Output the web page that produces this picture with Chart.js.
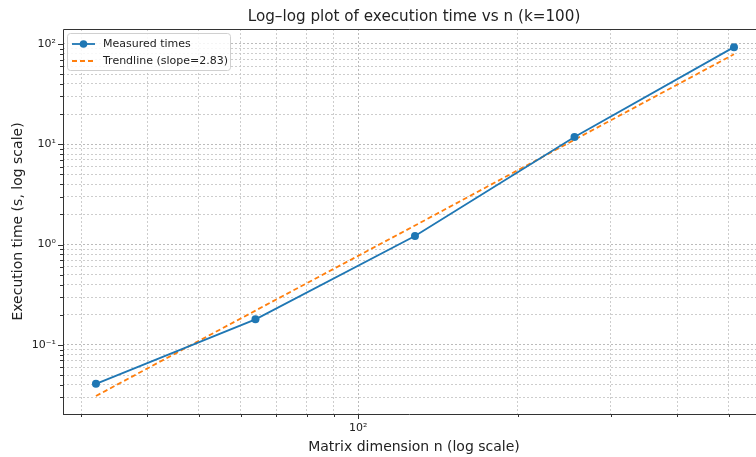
<!DOCTYPE html>
<html lang="en">
<head>
    <meta charset="UTF-8">
    <title>Log-log plot of execution time vs n</title>
    <script src="https://cdn.jsdelivr.net/npm/chart.js"></script>
    <style>
        body { margin: 0; background: #fff; }
        #wrap { width: 756px; height: 457px; }
    </style>
</head>
<body>
    <div id="wrap"><canvas id="grafico" width="756" height="457"></canvas></div>

    <script>
        // matrix sizes and measured times
        const nValues = [32, 64, 128, 256, 512];
        const measuredTimes = [0.041, 0.18, 1.22, 11.8, 93];
        const trendTimes = [0.031, 0.22, 1.55, 11.1, 79];

        // tick positions (log grid) - only powers of ten get a label
        const xTicks = [30, 40, 50, 60, 70, 80, 90, 100, 200, 300, 400, 500];
        const yTicks = [0.03, 0.04, 0.05, 0.06, 0.07, 0.08, 0.09,
                        0.1, 0.2, 0.3, 0.4, 0.5, 0.6, 0.7, 0.8, 0.9,
                        1, 2, 3, 4, 5, 6, 7, 8, 9,
                        10, 20, 30, 40, 50, 60, 70, 80, 90, 100];
        const powLabels = { '0.1': '10⁻¹', '1': '10⁰', '10': '10¹', '100': '10²' };

        const titleText = 'Log–log plot of execution time vs n (k=100)';
        const xTitleText = 'Matrix dimension n (log scale)';

        const FONT = "'DejaVu Sans', sans-serif";
        const BLUE = '#1f77b4';
        const ORANGE = '#ff7f0e';

        function isPow10(v) {
            const l = Math.log10(v);
            return Math.abs(l - Math.round(l)) < 1e-9;
        }

        // frame, tick marks, titles and the legend box inside the axes
        const extras = {
            id: 'extras',
            afterDraw(chart) {
                const ctx = chart.ctx;
                const a = chart.chartArea;
                const xs = chart.scales.x, ys = chart.scales.y;
                ctx.save();
                ctx.strokeStyle = '#333';
                ctx.lineWidth = 1;
                ctx.beginPath();
                ctx.moveTo(a.left + 0.5, a.bottom + 0.5);
                ctx.lineTo(a.left + 0.5, a.top + 0.5);
                ctx.lineTo(a.right, a.top + 0.5);
                ctx.moveTo(a.left, a.bottom + 0.5);
                ctx.lineTo(a.right, a.bottom + 0.5);
                // tick marks
                xs.ticks.forEach(t => {
                    const px = Math.round(xs.getPixelForValue(t.value)) + 0.5;
                    const len = isPow10(t.value) ? 5 : 3;
                    ctx.moveTo(px, a.bottom);
                    ctx.lineTo(px, a.bottom + len);
                });
                ys.ticks.forEach(t => {
                    const py = Math.round(ys.getPixelForValue(t.value)) + 0.5;
                    const len = isPow10(t.value) ? 5 : 3;
                    ctx.moveTo(a.left, py);
                    ctx.lineTo(a.left - len, py);
                });
                ctx.stroke();

                // titles, centred on the full axes (which run past the right edge)
                const cx = 414;
                ctx.fillStyle = '#222';
                ctx.textAlign = 'center';
                ctx.textBaseline = 'middle';
                ctx.font = '15.2px ' + FONT;
                ctx.fillText(titleText, cx, 17);
                ctx.font = '14px ' + FONT;
                ctx.fillText(xTitleText, cx, 447);

                // legend
                const bx = 67, by = 33, bw = 163, bh = 37;
                ctx.fillStyle = 'rgba(255,255,255,0.85)';
                ctx.strokeStyle = '#d0d0d0';
                ctx.beginPath();
                ctx.roundRect(bx + 0.5, by + 0.5, bw, bh, 3);
                ctx.fill();
                ctx.stroke();

                const rows = [
                    { label: chart.data.datasets[0].label, color: BLUE, dash: [], marker: true },
                    { label: chart.data.datasets[1].label, color: ORANGE, dash: [5, 3], marker: false }
                ];
                rows.forEach((r, i) => {
                    const y = by + 11 + i * 17;
                    ctx.strokeStyle = r.color;
                    ctx.lineWidth = 1.8;
                    ctx.setLineDash(r.dash);
                    ctx.beginPath();
                    ctx.moveTo(72, y);
                    ctx.lineTo(95, y);
                    ctx.stroke();
                    ctx.setLineDash([]);
                    if (r.marker) {
                        ctx.fillStyle = r.color;
                        ctx.beginPath();
                        ctx.arc(83.5, y, 3.8, 0, Math.PI * 2);
                        ctx.fill();
                    }
                    ctx.fillStyle = '#222';
                    ctx.font = '11px ' + FONT;
                    ctx.textBaseline = 'middle';
                    ctx.textAlign = 'left';
                    ctx.fillText(r.label, 103, y);
                });
                ctx.restore();
            }
        };

        const gridColor = (c) => isPow10(c.tick.value) ? '#b4b4b4' : '#c8c8c8';

        const ctx = document.getElementById('grafico').getContext('2d');
        const grafico = new Chart(ctx, {
            type: 'line',
            data: {
                datasets: [
                    {
                        label: 'Measured times',
                        data: nValues.map((n, i) => ({ x: n, y: measuredTimes[i] })),
                        borderColor: BLUE,
                        backgroundColor: BLUE,
                        borderWidth: 1.8,
                        pointRadius: 4,
                        pointHoverRadius: 4,
                        pointBorderWidth: 0,
                        tension: 0
                    },
                    {
                        label: 'Trendline (slope=2.83)',
                        data: nValues.map((n, i) => ({ x: n, y: trendTimes[i] })),
                        borderColor: ORANGE,
                        backgroundColor: ORANGE,
                        borderWidth: 1.8,
                        borderDash: [5, 3],
                        pointRadius: 0,
                        tension: 0
                    }
                ]
            },
            options: {
                responsive: false,
                animation: false,
                layout: { autoPadding: false, padding: { top: 29, right: 0, bottom: 0, left: 0 } },
                plugins: {
                    legend: { display: false },
                    tooltip: { enabled: false },
                    title: { display: false }
                },
                scales: {
                    x: {
                        type: 'logarithmic',
                        min: 27.73,
                        max: 563.4,
                        afterBuildTicks: (s) => { s.ticks = xTicks.map(v => ({ value: v })); },
                        afterFit: (s) => { s.height = 43; s.paddingLeft = 0; s.paddingRight = 0; },
                        ticks: {
                            autoSkip: false,
                            maxRotation: 0,
                            padding: 8,
                            color: '#222',
                            font: { family: FONT, size: 11 },
                            callback: (v) => powLabels[String(v)] || ''
                        },
                        grid: { color: gridColor, lineWidth: 0.9, drawTicks: false },
                        border: { display: false, dash: [2, 2] }
                    },
                    y: {
                        type: 'logarithmic',
                        min: 0.0205,
                        max: 141,
                        afterBuildTicks: (s) => { s.ticks = yTicks.map(v => ({ value: v })); },
                        afterFit: (s) => { s.width = 63; s.paddingTop = 0; s.paddingBottom = 0; },
                        ticks: {
                            autoSkip: false,
                            padding: 7,
                            color: '#222',
                            font: { family: FONT, size: 11 },
                            callback: (v) => powLabels[String(v)] || ''
                        },
                        grid: { color: gridColor, lineWidth: 0.9, drawTicks: false },
                        border: { display: false, dash: [2, 2] },
                        title: {
                            display: true,
                            text: 'Execution time (s, log scale)',
                            color: '#222',
                            font: { family: FONT, size: 14 },
                            padding: { top: 10, bottom: 0 }
                        }
                    }
                }
            },
            plugins: [extras]
        });
    </script>
</body>
</html>
